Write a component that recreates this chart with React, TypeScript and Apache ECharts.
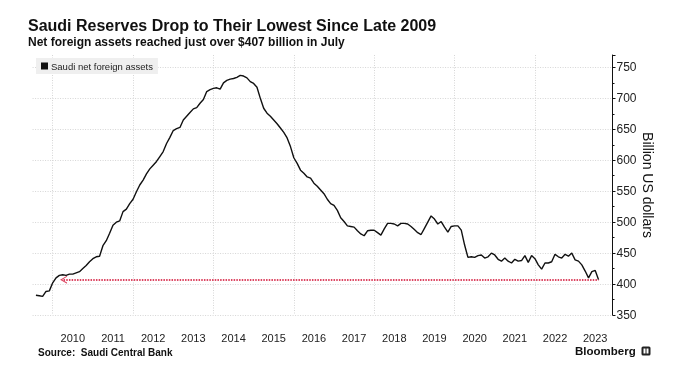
import React, { useEffect, useRef } from 'react';
import * as echarts from 'echarts';

// Month-end observations, July 2009 .. July 2023 (billion US dollars)
const START_YEAR = 2009;
const START_MONTH = 7;
const netForeignAssets = [
  382, 381, 380, 388, 389, 402, 410, 414, 415, 414, 416, 416, 418, 420, 425, 430, 436,
  441, 444, 445, 462, 470, 482, 495, 500, 502, 517, 521, 530,
  537, 549, 560, 568, 578, 586, 592, 598, 606, 614, 627, 637,
  648, 651, 653, 665, 671, 677, 683, 685, 692, 698, 711, 714,
  716, 717, 715, 725, 729, 731, 732, 734, 737, 736, 733, 727,
  724, 718, 700, 684, 676, 671, 665, 659, 652, 645, 636, 622,
  604, 595, 584, 579, 573, 571, 563, 558, 552, 546, 537, 530,
  527, 519, 507, 501, 494, 493, 492, 486, 481, 478, 486, 487,
  487, 483, 479, 489, 498, 498, 497, 494, 498, 498, 497, 493,
  488, 483, 480, 490, 500, 510, 505, 497, 501, 492, 484, 493,
  494, 494, 487, 463, 443, 444, 443, 446, 447, 442, 444, 450,
  447, 440, 437, 442, 437, 434, 440, 437, 438, 446, 435, 446,
  441, 431, 424, 434, 434, 436, 448, 444, 442, 448, 445, 450,
  439, 437, 431, 421, 410, 420, 422, 407,
];
const yearLabels = ['2010', '2011', '2012', '2013', '2014', '2015', '2016', '2017', '2018', '2019', '2020', '2021', '2022', '2023'];
const LOW_LEVEL = 407;
const ARROW_FROM = 2010.27;

const SERIES_NAME = 'Saudi net foreign assets';
const TITLE = 'Saudi Reserves Drop to Their Lowest Since Late 2009';
const SUBTITLE = 'Net foreign assets reached just over $407 billion in July';
const SOURCE = 'Source:  Saudi Central Bank';
const FONT = '"Liberation Sans", Arial, sans-serif';
const GRID_COLOR = '#d6d6d6';

const toYear = (i: number) => START_YEAR + (START_MONTH + i) / 12;

export default function App() {
  const ref = useRef<HTMLDivElement>(null);
  useEffect(() => {
    if (!ref.current) return;
    const chart = echarts.init(ref.current, null, { renderer: 'svg' });
    const data = netForeignAssets.map((v, i) => [toYear(i), v]);
    const lastX = toYear(netForeignAssets.length - 1);
    chart.setOption({
      animation: false,
      textStyle: { fontFamily: FONT },
      grid: { left: 32.6, right: 64.5, top: 55, bottom: 60, containLabel: false },
      legend: {
        data: [SERIES_NAME],
        left: 36,
        top: 58,
        icon: 'rect',
        itemWidth: 7,
        itemHeight: 7,
        backgroundColor: '#efefef',
        padding: [3, 5, 3, 5],
        textStyle: { fontSize: 9.5, color: '#222', fontFamily: FONT, padding: [0, 0, 0, -2] },
        itemStyle: { color: '#111' },
      },
      xAxis: {
        type: 'value',
        min: 2009.5,
        max: 2023.93,
        interval: 0.5,
        axisLine: { show: false },
        axisTick: { show: false },
        splitLine: {
          show: true,
          lineStyle: {
            color: ['transparent', GRID_COLOR, 'transparent', 'transparent'],
            type: [1, 1.5],
            width: 1,
          },
        },
        axisLabel: {
          margin: 17,
          fontSize: 11,
          color: '#222',
          fontFamily: FONT,
          formatter: (v: number) => {
            const frac = v - Math.floor(v);
            if (Math.abs(frac - 0.5) > 1e-6) return '';
            const y = String(Math.floor(v));
            return yearLabels.indexOf(y) >= 0 ? y : '';
          },
        },
      },
      yAxis: {
        type: 'value',
        position: 'right',
        min: 350,
        max: 770,
        interval: 50,
        name: 'Billion US dollars',
        nameLocation: 'middle',
        nameGap: 28,
        nameMoveOverlap: false,
        nameRotate: -90,
        nameTextStyle: { fontSize: 14, color: '#111', fontFamily: FONT },
        axisLine: { show: true, lineStyle: { color: '#111', width: 1 } },
        axisTick: { show: true, length: 3, lineStyle: { color: '#111' } },
        minorTick: { show: true, splitNumber: 2, length: 2, lineStyle: { color: '#111' } },
        splitLine: {
          show: true,
          showMaxLine: false,
          lineStyle: { color: GRID_COLOR, type: [1, 1.5], width: 1 },
        },
        axisLabel: { showMaxLabel: false, margin: 4, fontSize: 12, color: '#222', fontFamily: FONT },
      },
      graphic: [
        { type: 'text', x: 28, y: 25, style: { text: TITLE, font: `bold 16px ${FONT}`, fill: '#111', verticalAlign: 'middle' } },
        { type: 'text', x: 28, y: 42, style: { text: SUBTITLE, font: `bold 12px ${FONT}`, fill: '#111', verticalAlign: 'middle' } },
        { type: 'text', x: 38, y: 352.5, style: { text: SOURCE, font: `bold 10px ${FONT}`, fill: '#111', verticalAlign: 'middle' } },
        { type: 'text', x: 575, y: 350.5, style: { text: 'Bloomberg', font: `bold 11.5px ${FONT}`, fill: '#111', verticalAlign: 'middle' } },
        { type: 'rect', shape: { x: 641.5, y: 346.5, width: 9, height: 9, r: 1.5 }, style: { fill: '#222' } },
        { type: 'rect', shape: { x: 643.5, y: 348.5, width: 2, height: 5 }, style: { fill: '#fff' } },
        { type: 'rect', shape: { x: 646.5, y: 348.5, width: 2, height: 5 }, style: { fill: '#fff' } },
      ],
      series: [
        {
          name: SERIES_NAME,
          type: 'line',
          data,
          showSymbol: false,
          symbol: 'none',
          itemStyle: { color: '#111' },
          lineStyle: { color: '#111', width: 1.4 },
          markLine: {
            silent: true,
            symbol: ['path://M0,10 L5,0 L10,10 L8.6,10 L5,3 L1.4,10 Z', 'none'],
            symbolSize: [8, 7],
            label: { show: false },
            lineStyle: { color: '#dc4561', type: [1.5, 1.2], width: 2 },
            data: [[{ coord: [ARROW_FROM, LOW_LEVEL] }, { coord: [lastX, LOW_LEVEL] }]],
          },
        },
      ],
    });
    return () => chart.dispose();
  }, []);
  return <div ref={ref} style={{ position: 'fixed', left: 0, top: 0, width: 677, height: 375 }} />;
}
